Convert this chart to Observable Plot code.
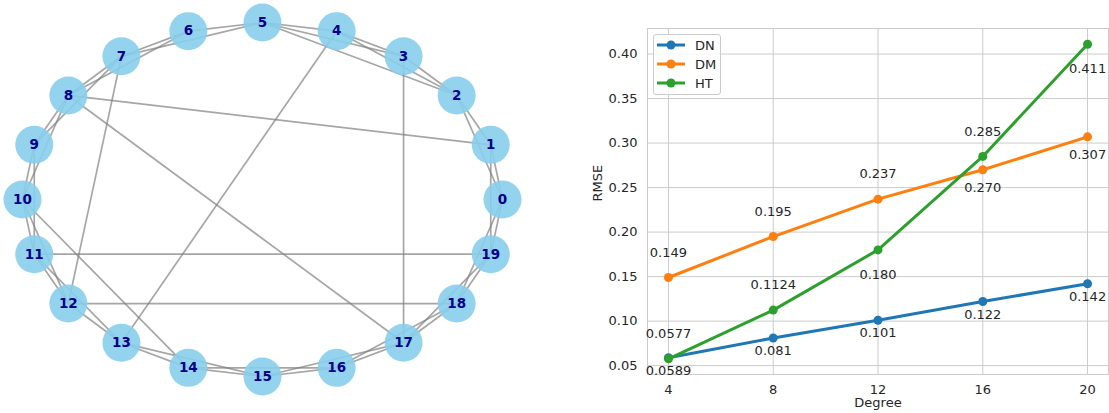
<!DOCTYPE html>
<html><head><meta charset="utf-8">
<script src="https://cdn.jsdelivr.net/npm/d3@7"></script>
<script src="https://cdn.jsdelivr.net/npm/@observablehq/plot@0.6"></script>
<style>
body{margin:0;background:#fff;font-family:"DejaVu Sans",sans-serif;}
#wrap{position:relative;width:1109px;height:413px;overflow:hidden;background:#fff;}
#net{position:absolute;left:0;top:0;}
#chart{position:absolute;left:540px;top:0;}
#legend{position:absolute;left:653px;top:34px;width:68px;height:61px;border:1px solid #cccccc;border-radius:3px;background:rgba(255,255,255,0.8);box-sizing:border-box;}
</style></head><body>
<div id="wrap"><div id="net"></div><div id="chart"></div><div id="legend"></div></div>
<script>
// ---------- network data ----------
const nodes = [0,1,2,3,4,5,6,7,8,9,10,11,12,13,14,15,16,17,18,19];
const ringEdges = [[0,1],[1,2],[2,3],[3,4],[4,5],[5,6],[6,7],[7,8],[8,9],[9,10],[10,11],[11,12],[12,13],[13,14],[14,15],[15,16],[16,17],[17,18],[18,19],[19,0]];
const secondEdges = [[0,2],[2,4],[3,5],[5,7],[6,8],[7,9],[8,10],[9,11],[10,12],[11,13],[13,15],[14,16],[15,17],[16,18],[17,19],[18,0],[19,1]];
const rewiredEdges = [[1,8],[8,17],[7,12],[4,13],[3,17],[11,19],[12,18],[10,14],[2,5]];

// ---------- chart data ----------
const degrees = [4, 8, 12, 16, 20];
const seriesNames = ["DN", "DM", "HT"];
const seriesColors = ["#1f77b4", "#ff7f0e", "#2ca02c"];
const dnValues = [0.0589, 0.081, 0.101, 0.122, 0.142];
const dmValues = [0.149, 0.195, 0.237, 0.270, 0.307];
const htValues = [0.0577, 0.1124, 0.180, 0.285, 0.411];
const dnLabels = ["0.0589", "0.081", "0.101", "0.122", "0.142"];
const dmLabels = ["0.149", "0.195", "0.237", "0.270", "0.307"];
const htLabels = ["0.0577", "0.1124", "0.180", "0.285", "0.411"];
const dnSides = ["below", "below", "below", "below", "below"];
const dmSides = ["above", "above", "above", "below", "below"];
const htSides = ["above", "above", "below", "above", "below"];
const yTicks = [0.05, 0.10, 0.15, 0.20, 0.25, 0.30, 0.35, 0.40];
const yTickLabels = ["0.05", "0.10", "0.15", "0.20", "0.25", "0.30", "0.35", "0.40"];
const xLabel = "Degree";
const yLabel = "RMSE";

// ---------- network (circular layout) ----------
const pos = nodes.map(i => ({id: i, x: Math.cos(2 * Math.PI * i / nodes.length), y: Math.sin(2 * Math.PI * i / nodes.length)}));
const edges = [...ringEdges, ...secondEdges, ...rewiredEdges];
const net = Plot.plot({
  width: 530, height: 413, margin: 0,
  x: {domain: [-1, 1], range: [22, 502]},
  y: {domain: [-1, 1], range: [376, 22]},
  axis: null,
  style: {background: "transparent", fontFamily: "DejaVu Sans"},
  marks: [
    Plot.link(edges, {x1: e => pos[e[0]].x, y1: e => pos[e[0]].y, x2: e => pos[e[1]].x, y2: e => pos[e[1]].y,
      stroke: "#808080", strokeOpacity: 0.7, strokeWidth: 1.7}),
    Plot.dot(pos, {x: "x", y: "y", r: 19, fill: "#87ceeb", fillOpacity: 0.9, stroke: "none"}),
    Plot.text(pos, {x: "x", y: "y", text: d => String(d.id), fill: "#00008b", fontWeight: "bold", fontSize: 13.5})
  ]
});
document.getElementById("net").appendChild(net);

// ---------- line chart ----------
const valueSets = [dnValues, dmValues, htValues];
const labelSets = [dnLabels, dmLabels, htLabels];
const sideSets = [dnSides, dmSides, htSides];
const belowOffsets = [13, 18, 25];
const rows = [];
seriesNames.forEach((s, si) => degrees.forEach((d, i) => rows.push({series: s, si, degree: d, value: valueSets[si][i], label: labelSets[si][i], side: sideSets[si][i]})));

const seriesMarks = [];
seriesNames.forEach((s, si) => {
  const r = rows.filter(d => d.series === s);
  seriesMarks.push(Plot.line(r, {x: "degree", y: "value", stroke: seriesColors[si], strokeWidth: 3}));
  seriesMarks.push(Plot.dot(r, {x: "degree", y: "value", fill: seriesColors[si], r: 4.5, stroke: "none"}));
});
const labelMarks = [];
seriesNames.forEach((s, si) => {
  labelMarks.push(Plot.text(rows.filter(d => d.series === s && d.side === "above"), {x: "degree", y: "value", text: "label", dy: -25, fill: "#262626"}));
  labelMarks.push(Plot.text(rows.filter(d => d.series === s && d.side === "below"), {x: "degree", y: "value", text: "label", dy: belowOffsets[si], fill: "#262626"}));
});

const chart = Plot.plot({
  width: 569, height: 413,
  marginLeft: 107, marginRight: 1, marginTop: 28, marginBottom: 39,
  style: {fontFamily: "DejaVu Sans", fontSize: "13px", color: "#262626", background: "transparent"},
  x: {domain: [3.2, 20.8]},
  y: {domain: [0.04003, 0.4287]},
  marks: [
    Plot.gridX(degrees, {stroke: "#cccccc", strokeOpacity: 1, strokeWidth: 1}),
    Plot.gridY(yTicks, {stroke: "#cccccc", strokeOpacity: 1, strokeWidth: 1}),
    Plot.frame({stroke: "#cccccc", strokeWidth: 1}),
    Plot.axisX(degrees, {tickSize: 0, tickPadding: 10, tickFormat: d => String(d), label: null, fill: "#262626"}),
    Plot.axisY(yTicks, {tickSize: 0, tickPadding: 10, tickFormat: d => yTickLabels[yTicks.indexOf(d)], label: null, fill: "#262626"}),
    Plot.text([yLabel], {text: d => d, frameAnchor: "left", rotate: -90, dx: -50, fill: "#262626"}),
    Plot.text([xLabel], {text: d => d, frameAnchor: "bottom", dy: 32, fill: "#262626"}),
    ...seriesMarks,
    ...labelMarks
  ]
});
document.getElementById("chart").appendChild(chart);

// ---------- legend ----------
const lg = d3.select("#legend").append("svg").attr("width", 67).attr("height", 60).style("position", "absolute").style("left", "0px").style("top", "0px");
seriesNames.forEach((s, i) => {
  const y = 10 + i * 19;
  lg.append("line").attr("x1", 3).attr("x2", 31).attr("y1", y).attr("y2", y).attr("stroke", seriesColors[i]).attr("stroke-width", 3);
  lg.append("circle").attr("cx", 17).attr("cy", y).attr("r", 4.5).attr("fill", seriesColors[i]);
  lg.append("text").attr("x", 41).attr("y", y).attr("dy", "0.35em").attr("fill", "#262626")
    .style("font-family", "DejaVu Sans").style("font-size", "13px").text(s);
});
</script>
</body></html>
